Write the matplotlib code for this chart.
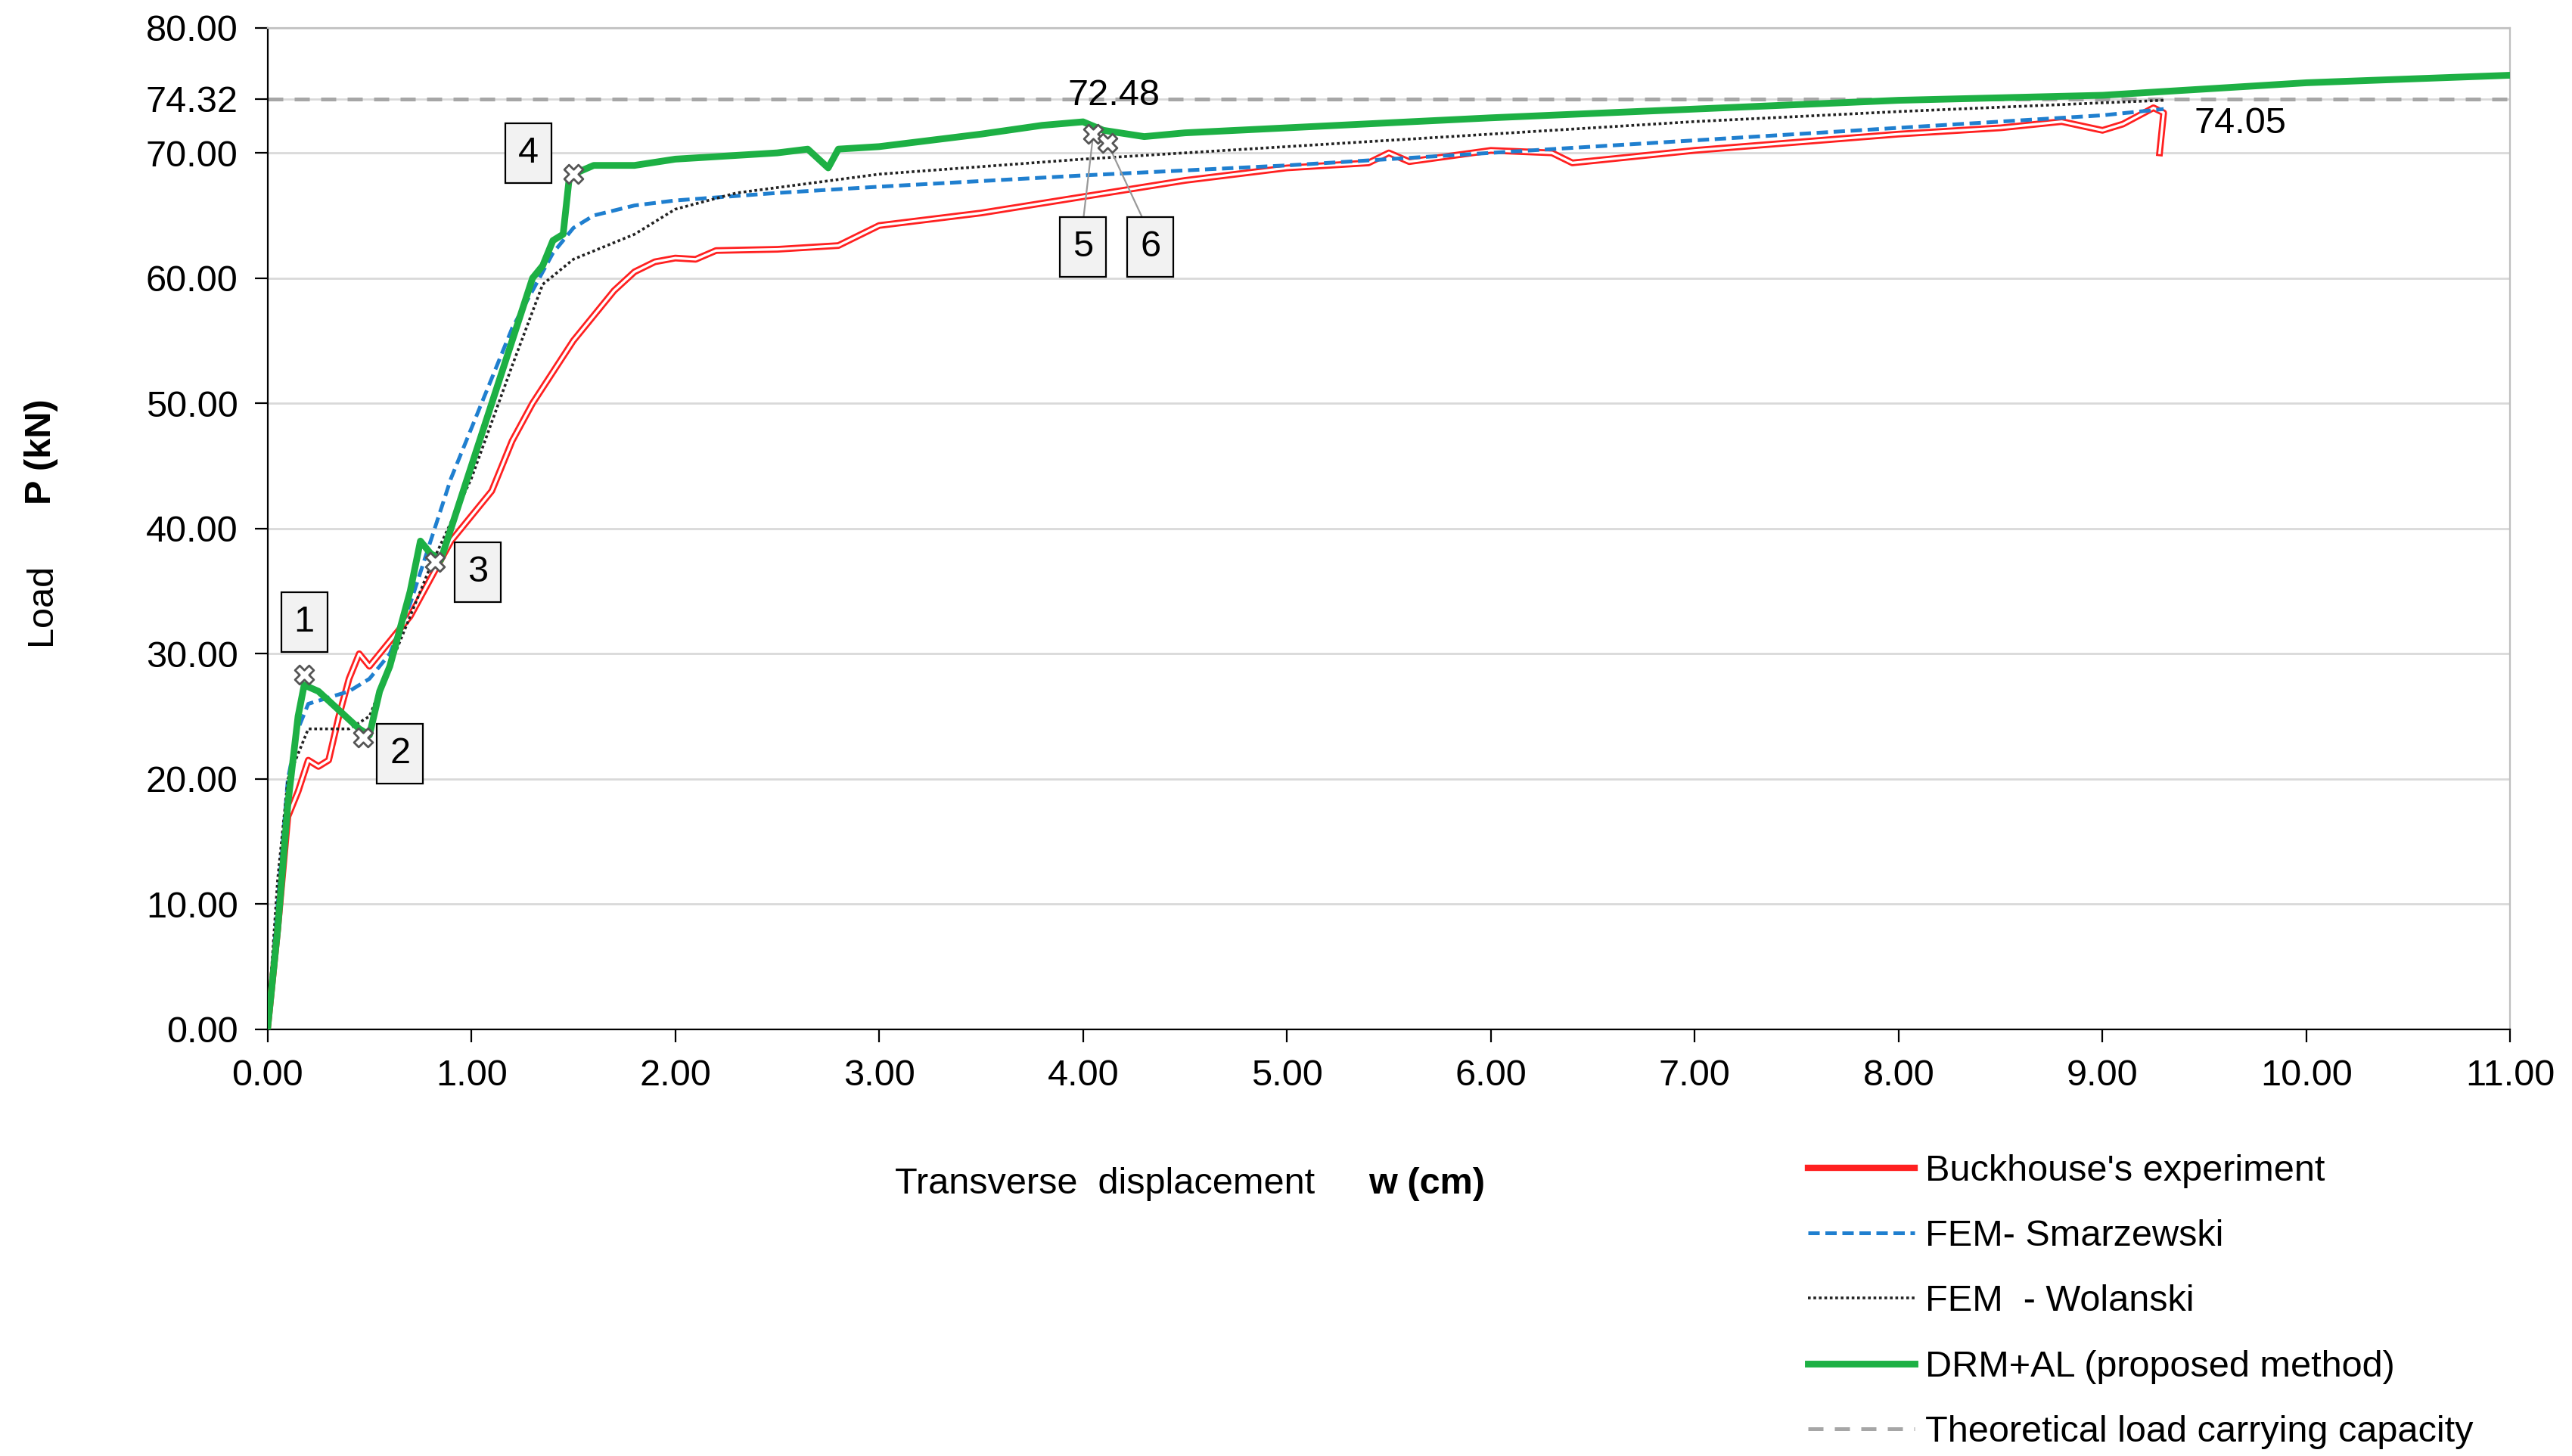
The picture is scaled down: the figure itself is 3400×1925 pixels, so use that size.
import matplotlib
matplotlib.use("Agg")
import matplotlib.pyplot as plt
from matplotlib.lines import Line2D

plt.rcParams["font.family"] = ["Liberation Sans", "DejaVu Sans"]

exp_w = [0, 0.05, 0.1, 0.15, 0.2, 0.25, 0.3, 0.35, 0.4, 0.45, 0.5, 0.6, 0.7, 0.8, 0.9, 1.0, 1.1, 1.2, 1.3, 1.4,
         1.5, 1.6, 1.7, 1.8, 1.9, 2.0, 2.1, 2.2, 2.5, 2.8, 3.0, 3.5, 4.0, 4.5, 5.0, 5.4, 5.5, 5.6, 6.0, 6.3, 6.4,
         7.0, 8.0, 8.5, 8.8, 9.0, 9.1, 9.25, 9.3, 9.28]
exp_p = [0, 8, 17, 19, 21.5, 21, 21.5, 25, 28, 30, 29, 31, 33, 36, 39, 41, 43, 47, 50, 52.5,
         55, 57, 59, 60.5, 61.3, 61.6, 61.5, 62.2, 62.3, 62.6, 64.2, 65.2, 66.5, 67.8, 68.8, 69.2, 70, 69.3, 70.2, 70, 69.2,
         70.2, 71.5, 72, 72.5, 71.8, 72.3, 73.6, 73.2, 70]
sm_w = [0, 0.05, 0.1, 0.15, 0.2, 0.3, 0.4, 0.5, 0.6, 0.7, 0.8, 0.9, 1.0, 1.1, 1.2, 1.3, 1.4, 1.5, 1.6, 1.8, 2.0,
        2.5, 3.0, 4.0, 5.0, 6.0, 7.0, 8.0, 9.0, 9.3]
sm_p = [0, 10, 20, 24, 26, 26.5, 27, 28, 30, 34, 39, 44, 48, 52, 56, 59, 62, 64, 65, 65.8, 66.2,
        66.8, 67.3, 68.2, 69, 70, 71, 72, 73, 73.5]
wo_w = [0, 0.05, 0.1, 0.2, 0.4, 0.5, 0.6, 0.8, 1.0, 1.2, 1.35, 1.5, 1.8, 2.0, 2.3, 3.0, 4.0, 5.0, 6.0, 7.0, 8.0, 9.0, 9.3]
wo_p = [0, 12, 20, 24, 24, 25, 29, 37, 44, 53, 59.5, 61.5, 63.5, 65.5, 66.8, 68.3, 69.5, 70.5, 71.5, 72.5, 73.3, 74, 74.2]
drm_w = [0, 0.05, 0.1, 0.15, 0.18, 0.25, 0.35, 0.45, 0.5, 0.55, 0.6, 0.7, 0.75, 0.8, 0.85, 0.9, 1.0, 1.1, 1.2, 1.3,
         1.35, 1.4, 1.45, 1.48, 1.5, 1.6, 1.8, 2.0, 2.5, 2.65, 2.75, 2.8, 3.0, 3.5, 3.8, 4.0, 4.1, 4.3, 4.5, 5.0,
         6.0, 7.0, 8.0, 9.0, 10.0, 11.0]
drm_p = [0, 8, 18, 25, 27.5, 27, 25.5, 24, 23.5, 27, 29, 35, 39, 38, 37.5, 40, 45, 50, 55, 60,
         61, 63, 63.5, 68, 68.3, 69, 69, 69.5, 70, 70.3, 68.8, 70.3, 70.5, 71.5, 72.2, 72.48, 71.8, 71.3, 71.6, 72,
         72.8, 73.5, 74.2, 74.6, 75.6, 76.2]
cap = 74.32
mk_w = [0.18, 0.47, 0.82, 1.5, 4.05, 4.12]
mk_p = [28.3, 23.3, 37.3, 68.3, 71.5, 70.8]
box_lab = ["1", "2", "3", "4", "5", "6"]
box_w = [0.18, 0.65, 1.03, 1.28, 4.0, 4.33]
box_p = [32.5, 22, 36.5, 70.0, 62.5, 62.5]

fig = plt.figure(figsize=(17, 9.625), dpi=200)
ax = fig.add_axes([0.104, 0.293, 0.872, 0.688])
fs = 17.5

ax.axhline(cap, color="#a6a6a6", lw=1.8, ls=(0, (4, 3)), zorder=1)
ax.plot(exp_w, exp_p, color="#ff2020", lw=3.2, zorder=3)
ax.plot(exp_w, exp_p, color="white", lw=1.2, zorder=3)
ax.plot(sm_w, sm_p, color="#1f7fcf", lw=1.8, ls=(0, (3, 1.5)), zorder=4)
ax.plot(wo_w, wo_p, color="#222222", lw=1.3, ls=(0, (1, 1)), zorder=4)
ax.plot(drm_w, drm_p, color="#1db044", lw=3.2, zorder=5)
ax.scatter(mk_w, mk_p, marker="X", s=80, color="white", edgecolors="#555", linewidths=1.0, zorder=7)
for lab, bw, bp in zip(box_lab, box_w, box_p):
    ax.text(bw, bp, lab, fontsize=fs, ha="center", va="center", zorder=8,
            bbox=dict(boxstyle="square,pad=0.35", fc="#f2f2f2", ec="black", lw=0.8))
ax.plot([4.05, 4.0], [71.5, 64.5], color="#999", lw=0.8, zorder=6)
ax.plot([4.12, 4.3], [70.8, 64.5], color="#999", lw=0.8, zorder=6)
ax.text(4.15, 73.2, "72.48", fontsize=fs, ha="center", va="bottom")
ax.text(9.45, 71.0, "74.05", fontsize=fs, ha="left", va="bottom")

ax.set_xlim(0, 11)
ax.set_ylim(0, 80)
ax.set_xticks(range(12))
ax.set_xticklabels([f"{v:.2f}" for v in range(12)], fontsize=fs)
yt = [0, 10, 20, 30, 40, 50, 60, 70, cap, 80]
ax.set_yticks(yt)
ax.set_yticklabels([f"{v:.2f}" for v in yt], fontsize=fs)
ax.grid(axis="y", color="#d9d9d9", lw=1.0, zorder=0)
ax.tick_params(length=6, color="black", pad=8)
for s in ["top", "right"]:
    ax.spines[s].set_color("#bfbfbf")
ax.set_axisbelow(True)

fig.text(0.348, 0.187, "Transverse  displacement", fontsize=fs, ha="left", va="center")
fig.text(0.532, 0.187, "w (cm)", fontsize=fs, fontweight="bold", ha="left", va="center")
fig.text(0.016, 0.585, "Load", fontsize=fs, rotation=90, ha="center", va="center")
fig.text(0.016, 0.69, "P (kN)", fontsize=fs, fontweight="bold", rotation=90, ha="center", va="center")

handles = [Line2D([], [], color="#ff2020", lw=3),
           Line2D([], [], color="#1f7fcf", lw=1.8, ls=(0, (3, 1.5))),
           Line2D([], [], color="#222222", lw=1.3, ls=(0, (1, 1))),
           Line2D([], [], color="#1db044", lw=3.2),
           Line2D([], [], color="#a6a6a6", lw=1.8, ls=(0, (4, 3)))]
labels = ["Buckhouse's experiment", "FEM- Smarzewski", "FEM  - Wolanski",
          "DRM+AL (proposed method)", "Theoretical load carrying capacity"]
fig.legend(handles, labels, loc="lower left", bbox_to_anchor=(0.69, -0.018), frameon=False,
           fontsize=fs, handlelength=2.9, handletextpad=0.3, labelspacing=0.85)

fig.savefig("out.png", dpi=200)
